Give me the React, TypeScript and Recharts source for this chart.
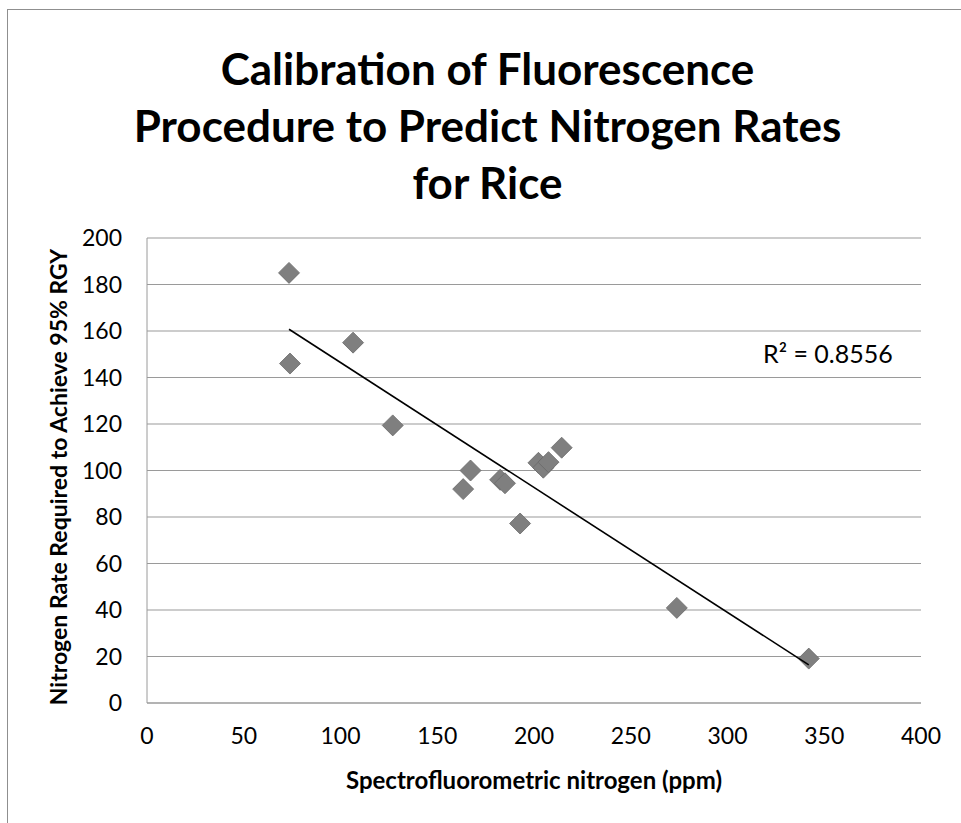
import { ScatterChart, Scatter, XAxis, YAxis, CartesianGrid } from 'recharts';

// Spectrofluorometric nitrogen (ppm) vs N rate required for 95% RGY
const nitrogenPpm = [73.4, 73.9, 106.5, 127, 163.4, 167.2, 182.5, 185, 192.8, 202.3, 204.8, 207.5, 214.3, 273.8, 342];
const nRateRequired = [185, 146, 155, 119.4, 92, 100, 96, 94.5, 77.2, 103.3, 101.2, 103.6, 109.8, 40.9, 19.1];

const xTicks = [0, 50, 100, 150, 200, 250, 300, 350, 400];
const yTicks = [0, 20, 40, 60, 80, 100, 120, 140, 160, 180, 200];

const titleLines = ['Calibration of Fluorescence', 'Procedure to Predict Nitrogen Rates', 'for Rice'];
const xTitle = 'Spectrofluorometric nitrogen (ppm)';
const yTitle = 'Nitrogen Rate Required to Achieve 95% RGY';
const rSquaredText = 'R² = 0.8556';

const FONT = 'Lato, "Open Sans", sans-serif';

const points = nitrogenPpm.map((x, i) => ({ x, y: nRateRequired[i] }));

// least squares trendline, drawn between min and max x like Excel does
function linearTrend(xs: number[], ys: number[]) {
  const n = xs.length;
  const mx = xs.reduce((a, b) => a + b, 0) / n;
  const my = ys.reduce((a, b) => a + b, 0) / n;
  let sxy = 0;
  let sxx = 0;
  xs.forEach((x, i) => {
    sxy += (x - mx) * (ys[i] - my);
    sxx += (x - mx) * (x - mx);
  });
  const slope = sxy / sxx;
  const lo = Math.min(...xs);
  const hi = Math.max(...xs);
  return [
    { x: lo, y: my + slope * (lo - mx) },
    { x: hi, y: my + slope * (hi - mx) },
  ];
}

const trend = linearTrend(nitrogenPpm, nRateRequired);

const Diamond = (props: any) => {
  const { cx, cy } = props;
  const r = 10.5;
  return (
    <polygon
      points={`${cx},${cy - r} ${cx + r},${cy} ${cx},${cy + r} ${cx - r},${cy}`}
      fill="#7f7f7f"
      stroke="#6a6a6a"
      strokeWidth={0.8}
    />
  );
};

const tickStyle = { fill: '#000', fontSize: 23, fontFamily: FONT };

export default function App() {
  // the frame is placed at the page origin so coordinates below are page pixels
  return (
    <div
      style={{
        position: 'absolute',
        left: 0,
        top: 0,
        width: 961,
        height: 823,
        overflow: 'hidden',
        fontFamily: FONT,
        background: '#fff',
      }}
    >
      {/* chart area border, only top and left visible in the crop */}
      <div
        style={{
          position: 'absolute',
          left: 7,
          top: 9,
          width: 1000,
          height: 900,
          border: '1px solid #8f8f8f',
          boxSizing: 'border-box',
        }}
      />

      <div
        style={{
          position: 'absolute',
          left: 0,
          top: 40,
          width: 975,
          textAlign: 'center',
          fontWeight: 700,
          fontSize: 44,
          lineHeight: '57px',
          color: '#000',
        }}
      >
        {titleLines.map((t) => (
          <div key={t}>{t}</div>
        ))}
      </div>

      <ScatterChart
        width={961}
        height={823}
        margin={{ top: 238, right: 40, left: 67, bottom: 80 }}
        style={{ position: 'absolute', left: 0, top: 0 }}
      >
        <CartesianGrid vertical={false} stroke="#9a9a9a" strokeWidth={1.2} />
        <XAxis
          type="number"
          dataKey="x"
          domain={[0, 400]}
          ticks={xTicks}
          height={40}
          tickLine={false}
          tickSize={0}
          tickMargin={25}
          axisLine={{ stroke: '#9a9a9a' }}
          tick={tickStyle}
          allowDataOverflow
        />
        <YAxis
          type="number"
          dataKey="y"
          domain={[0, 200]}
          ticks={yTicks}
          width={80}
          tickLine={false}
          tickSize={0}
          tickMargin={25}
          axisLine={{ stroke: '#9a9a9a' }}
          tick={tickStyle}
          allowDataOverflow
        />
        <Scatter data={points} shape={Diamond} isAnimationActive={false} />
        <Scatter
          data={trend}
          line={{ stroke: '#000', strokeWidth: 1.6 }}
          shape={() => null}
          isAnimationActive={false}
        />
      </ScatterChart>

      <div
        style={{
          position: 'absolute',
          left: 763,
          top: 338,
          fontSize: 25,
          color: '#000',
          whiteSpace: 'nowrap',
        }}
      >
        {rSquaredText}
      </div>

      <div
        style={{
          position: 'absolute',
          left: 147,
          width: 774,
          top: 765,
          textAlign: 'center',
          fontSize: 24,
          fontWeight: 700,
          color: '#000',
        }}
      >
        {xTitle}
      </div>

      <div style={{ position: 'absolute', left: 58, top: 477, width: 0, height: 0 }}>
        <div
          style={{
            position: 'absolute',
            left: 0,
            top: 0,
            transform: 'translate(-50%, -50%) rotate(-90deg)',
            whiteSpace: 'nowrap',
            fontSize: 23,
            fontWeight: 700,
            color: '#000',
          }}
        >
          {yTitle}
        </div>
      </div>
    </div>
  );
}
